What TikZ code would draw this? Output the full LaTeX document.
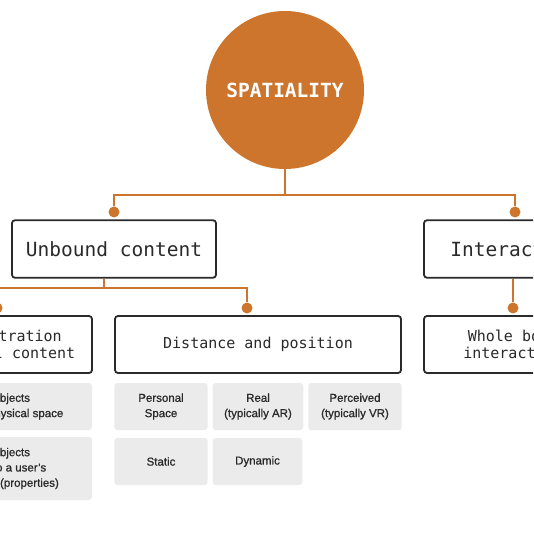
\documentclass[tikz,border=0pt]{standalone}
\usepackage{fontspec}
\setmainfont{Liberation Sans}
\newfontfamily\monofont{DejaVu Sans Mono}
\newfontface\cellfont{Liberation Sans}[FakeBold=0.9]
\usetikzlibrary{calc,positioning}
\definecolor{spatorange}{HTML}{CD752D}
\definecolor{cellgrey}{HTML}{EBEBEB}
\definecolor{ink}{HTML}{2A2A2A}

\begin{document}
\begin{tikzpicture}[
  x=1pt,y=1pt,
  root/.style={circle,fill=spatorange,minimum size=158pt,inner sep=0pt,text=white,
    font=\monofont\bfseries\fontsize{19.5}{22}\selectfont},
  headbox/.style={draw=ink,line width=1.8pt,rounded corners=3pt,fill=white,
    minimum height=57.5pt,inner sep=0pt,align=center,text=ink,
    font=\monofont\fontsize{19.5}{22}\selectfont},
  subbox/.style={headbox,minimum height=57pt,font=\monofont\fontsize{15}{17.5}\selectfont},
  cell/.style={fill=cellgrey,rounded corners=3pt,inner sep=0pt,align=center,
    text=ink,font=\cellfont\fontsize{11.5}{15.3}\selectfont},
  link/.style={draw=spatorange,line width=2pt},
  knob/.style={circle,fill=spatorange,minimum size=11pt,inner sep=0pt}
]
% frame of the picture
\useasboundingbox (0,0) rectangle (533,-534);
\clip (0,0) rectangle (533,-534);
% top concept
\node[root] (root) at (285,-90) {SPATIALITY};
% first level
\node[headbox,minimum width=204pt] (unbound) at (114,-249) {Unbound content};
\node[headbox,minimum width=182pt] (interact) at (515,-249) {Interaction};
\coordinate (bus1) at (285,-195);
\node[knob] (kU) at (114,-212) {};
\node[knob] (kI) at (515,-212) {};
\draw[link] (root.south) -- (bus1);
\draw[link] (kU.north) |- (bus1) -| (kI.north);
% second level
\node[subbox,minimum width=196pt] (coreg) at (-6,-344.5) {Co-registration\\of virtual content};
\node[subbox,minimum width=286pt] (distance) at (258,-344.5) {Distance and position};
\node[subbox,minimum width=178pt] (wholebody) at (513,-344.5) {Whole body\\interaction};
\coordinate (bus2) at (104,-288);
\node[knob] (kR) at (-3,-308) {};
\node[knob] (kD) at (247,-308) {};
\node[knob] (kW) at (513,-308) {};
\draw[link] (unbound.south -| bus2) -- (bus2);
\draw[link] (kR.north) |- (bus2) -| (kD.north);
\draw[link] (interact.south -| kW) -- (kW.north);
% grey cells
\foreach \name/\x/\y/\w/\h/\txt in {
  anchphys/-6/-406.5/196/47/{Virtual objects\\anchored in physical space},
  anchuser/-6/-468.5/196/63/{Virtual objects\\anchored to a user’s\\body location (properties)},
  personal/161/-406.5/93.4/47/{Personal\\Space},
  real/258/-406.5/90.6/47/{Real\\(typically AR)},
  perceived/355/-406.5/93.4/47/{Perceived\\(typically VR)},
  static/161/-461.5/93.4/47/{Static},
  dynamic/257.5/-461.5/89.6/47/{Dynamic}}{
  \node[cell,minimum width=\w pt,minimum height=\h pt] (\name) at (\x,\y) {\txt};
}
\end{tikzpicture}
\end{document}
